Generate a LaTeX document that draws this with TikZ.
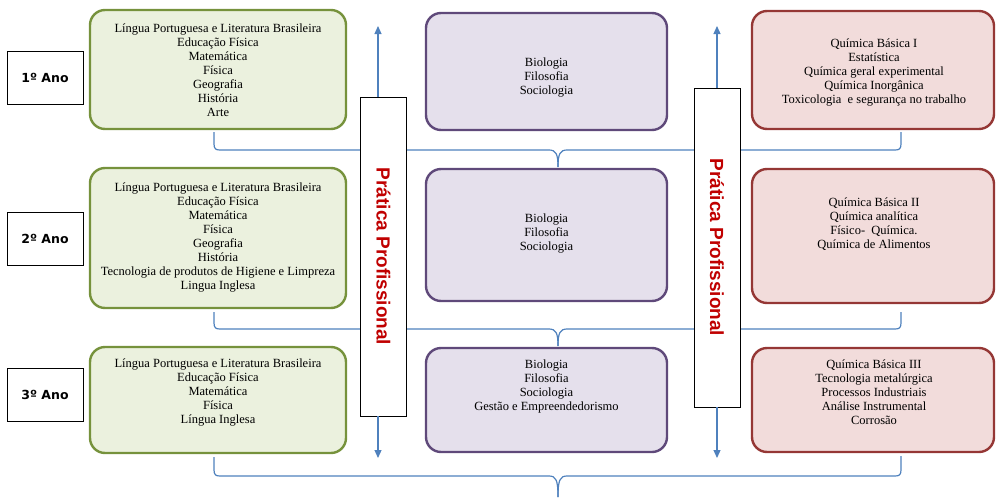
\documentclass[tikz,border=0pt]{standalone}
\usepackage{fontspec}
\setmainfont{Liberation Serif}
\newfontfamily\yearfont{DejaVu Sans}
\newfontfamily\pracfont{Liberation Sans}
\usetikzlibrary{arrows.meta,calc}

\definecolor{greenfill}{RGB}{235,241,222}
\definecolor{greenline}{RGB}{118,146,60}
\definecolor{purplefill}{RGB}{229,224,236}
\definecolor{purpleline}{RGB}{95,73,122}
\definecolor{redfill}{RGB}{242,220,219}
\definecolor{redline}{RGB}{149,55,53}
\definecolor{lineblue}{RGB}{79,129,189}
\definecolor{pracred}{RGB}{192,0,0}

\begin{document}
\begin{tikzpicture}[
    x=1pt, y=-1pt,
    >={Triangle[length=8pt,width=7pt]},
    year_box/.style={draw, line width=0.9pt, minimum width=76pt, minimum height=53pt,
        font=\yearfont\bfseries\fontsize{12.5}{15}\selectfont},
    subj_box/.style={draw, rounded corners=15pt, line width=2.4pt, minimum width=#1},
    green_box/.style={subj_box=256pt, fill=greenfill, draw=greenline},
    purple_box/.style={subj_box=241pt, fill=purplefill, draw=purpleline},
    red_box/.style={subj_box=242pt, fill=redfill, draw=redline},
    subj_text/.style={align=center, inner sep=0pt, font=\fontsize{12.5}{14}\selectfont},
    prac_box/.style={draw, fill=white, line width=0.8pt, minimum width=46pt, minimum height=319pt},
    prac_text/.style={rotate=-90, text=pracred, font=\pracfont\bfseries\fontsize{19}{23}\selectfont},
    brace_line/.style={draw=lineblue, line width=1.2pt},
    flow_arrow/.style={->, draw=lineblue, fill=lineblue, line width=1.2pt}
]
\useasboundingbox (0,0) rectangle (1007,498);

% --- NODES ---

% Years (left column)
\node[year_box] (y1) at (45,77.5) {1º Ano};
\node[year_box] (y2) at (45,238.5) {2º Ano};
\node[year_box] (y3) at (45,395) {3º Ano};

% Common subjects (green)
\node[green_box, minimum height=119pt] (g1) at (218,69.5) {};
\node[green_box, minimum height=140pt] (g2) at (218,238) {};
\node[green_box, minimum height=106pt] (g3) at (218,400) {};

% Humanities (purple)
\node[purple_box, minimum height=117pt] (p1) at (546.5,71.5) {};
\node[purple_box, minimum height=132pt] (p2) at (546.5,235) {};
\node[purple_box, minimum height=104pt] (p3) at (546.5,400) {};

% Technical subjects (red)
\node[red_box, minimum height=118pt] (r1) at (873,70) {};
\node[red_box, minimum height=134pt] (r2) at (873,236) {};
\node[red_box, minimum height=104pt] (r3) at (873,400) {};

% Box contents
\node[subj_text] (g1t) at (218,70) {Língua Portuguesa e Literatura Brasileira\\Educação Física\\Matemática\\Física\\Geografia\\História\\Arte};
\node[subj_text] (g2t) at (218,237) {Língua Portuguesa e Literatura Brasileira\\Educação Física\\Matemática\\Física\\Geografia\\História\\Tecnologia de produtos de Higiene e Limpreza\\Lingua Inglesa};
\node[subj_text] (g3t) at (218,392) {Língua Portuguesa e Literatura Brasileira\\Educação Física\\Matemática\\Física\\Língua Inglesa};

\node[subj_text] (p1t) at (546.5,78) {Biologia\\Filosofia\\Sociologia};
\node[subj_text] (p2t) at (546.5,234) {Biologia\\Filosofia\\Sociologia};
\node[subj_text] (p3t) at (546.5,386.5) {Biologia\\Filosofia\\Sociologia\\Gestão e Empreendedorismo};

\node[subj_text] (r1t) at (874,73) {Química Básica I\\Estatística\\Química geral experimental\\Química Inorgânica\\Toxicologia\ \ e segurança no trabalho};
\node[subj_text] (r2t) at (874,224.5) {Química Básica II\\Química analítica\\Físico-\ \ Química.\\Química de Alimentos};
\node[subj_text] (r3t) at (874,392.5) {Química Básica III\\Tecnologia metalúrgica\\Processos Industriais\\Análise Instrumental\\Corrosão};

% Brace tips
\coordinate (tip1) at (558,167);
\coordinate (tip2) at (558,346);
\coordinate (tip3) at (558,497);

% --- BRACES ---

% 1. first year
\draw[brace_line] ([xshift=-4pt,yshift=-2pt]g1.south) -- (214,144) .. controls (214,149) and (216,150) .. (220,150) -- (549,150) .. controls (556,150) and (558,154) .. (tip1);
\draw[brace_line] ([xshift=28pt,yshift=-2pt]r1.south) -- (901,144) .. controls (901,149) and (899,150) .. (895,150) -- (567,150) .. controls (560,150) and (558,154) .. (tip1);

% 2. second year
\draw[brace_line] ([xshift=-4pt,yshift=-3pt]g2.south) -- (214,323) .. controls (214,328) and (216,329) .. (220,329) -- (549,329) .. controls (556,329) and (558,333) .. (tip2);
\draw[brace_line] ([xshift=28pt,yshift=-8pt]r2.south) -- (901,323) .. controls (901,328) and (899,329) .. (895,329) -- (567,329) .. controls (560,329) and (558,333) .. (tip2);

% 3. third year
\draw[brace_line] ([xshift=-4pt,yshift=-3pt]g3.south) -- (214,470) .. controls (214,475) and (216,476) .. (220,476) -- (549,476) .. controls (556,476) and (558,480) .. (tip3);
\draw[brace_line] ([xshift=28pt,yshift=-3pt]r3.south) -- (901,470) .. controls (901,475) and (899,476) .. (895,476) -- (567,476) .. controls (560,476) and (558,480) .. (tip3);

% --- PRACTICE ---
\node[prac_box] (pp1) at (383.5,256.5) {};
\node[prac_text] at (pp1) {Prática Profissional};
\node[prac_box] (pp2) at (717,247.5) {};
\node[prac_text] at (pp2) {Prática Profissional};

\coordinate (up1) at (378,26);
\coordinate (down1) at (378,458);
\coordinate (up2) at (717,26);
\coordinate (down2) at (717,458);

\draw[flow_arrow] ([xshift=-5.5pt]pp1.north) -- (up1);
\draw[flow_arrow] ([xshift=-5.5pt]pp1.south) -- (down1);
\draw[flow_arrow] (pp2.north) -- (up2);
\draw[flow_arrow] (pp2.south) -- (down2);

\end{tikzpicture}
\end{document}
